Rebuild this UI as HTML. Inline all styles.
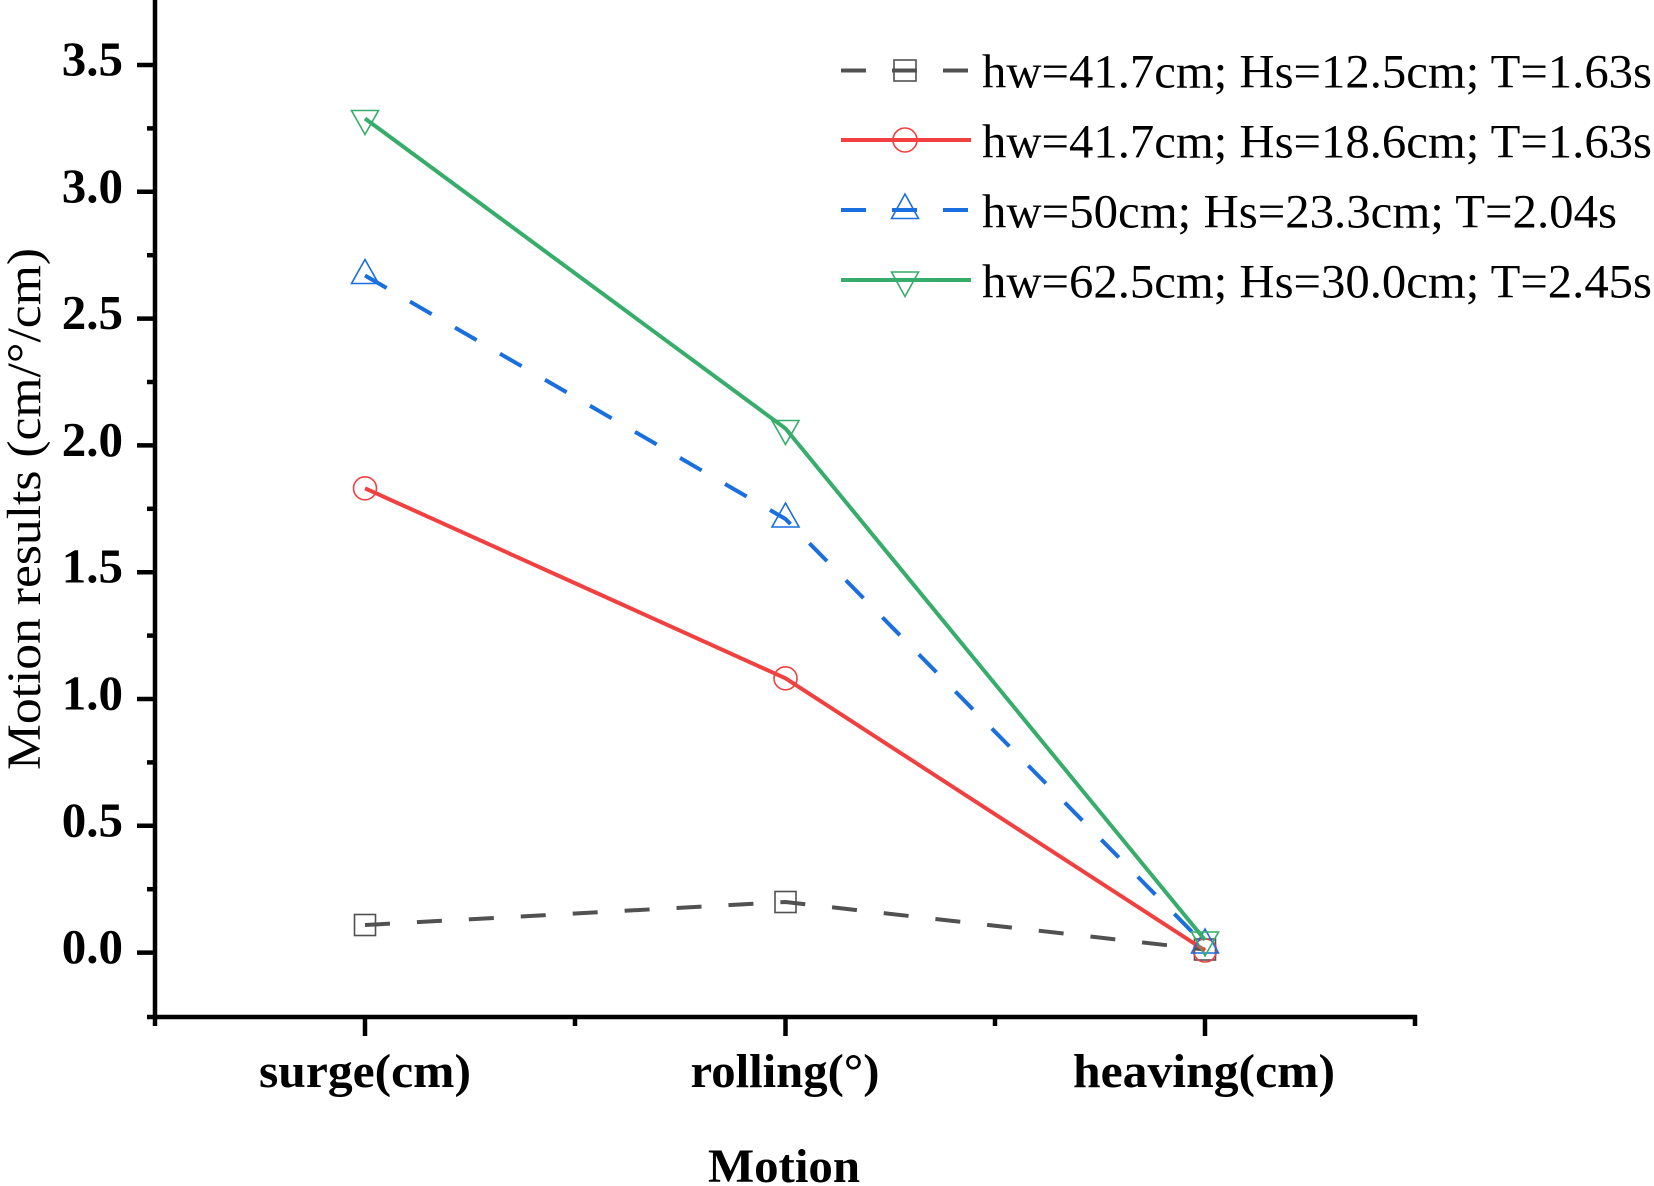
<!DOCTYPE html>
<html>
<head>
<meta charset="utf-8">
<style>
  html, body { margin: 0; padding: 0; background: #ffffff; }
  body { width: 1654px; height: 1186px; overflow: hidden; }
  svg { display: block; }
  .tick { font-family: "Liberation Serif", serif; font-weight: bold; font-size: 49px; fill: #000; }
  .cat { font-family: "Liberation Serif", serif; font-weight: bold; font-size: 48px; fill: #000; }
  .leg { font-family: "Liberation Serif", serif; font-size: 48px; fill: #000; }
  .ttl { font-family: "Liberation Serif", serif; font-size: 48px; fill: #000; }
</style>
</head>
<body>
<svg width="1654" height="1186" viewBox="0 0 1654 1186" xmlns="http://www.w3.org/2000/svg">
  <rect x="0" y="0" width="1654" height="1186" fill="#ffffff"/>

  <!-- Axes -->
  <g stroke="#000" stroke-width="4.5" fill="none" stroke-linecap="butt">
    <line x1="155" y1="0" x2="155" y2="1019"/>
    <line x1="153" y1="1017" x2="1417" y2="1017"/>
    <!-- y major ticks -->
    <line x1="137" y1="952.6" x2="155" y2="952.6"/>
    <line x1="137" y1="825.8" x2="155" y2="825.8"/>
    <line x1="137" y1="699" x2="155" y2="699"/>
    <line x1="137" y1="572.2" x2="155" y2="572.2"/>
    <line x1="137" y1="445.4" x2="155" y2="445.4"/>
    <line x1="137" y1="318.6" x2="155" y2="318.6"/>
    <line x1="137" y1="191.8" x2="155" y2="191.8"/>
    <line x1="137" y1="65" x2="155" y2="65"/>
    <!-- y minor ticks -->
    <line x1="147" y1="1017" x2="155" y2="1017"/>
    <line x1="147" y1="889.2" x2="155" y2="889.2"/>
    <line x1="147" y1="762.4" x2="155" y2="762.4"/>
    <line x1="147" y1="635.6" x2="155" y2="635.6"/>
    <line x1="147" y1="508.8" x2="155" y2="508.8"/>
    <line x1="147" y1="382" x2="155" y2="382"/>
    <line x1="147" y1="255.2" x2="155" y2="255.2"/>
    <line x1="147" y1="128.4" x2="155" y2="128.4"/>
    <!-- x major ticks -->
    <line x1="365" y1="1017" x2="365" y2="1036"/>
    <line x1="785.5" y1="1017" x2="785.5" y2="1036"/>
    <line x1="1205" y1="1017" x2="1205" y2="1036"/>
    <!-- x minor ticks -->
    <line x1="155" y1="1017" x2="155" y2="1026"/>
    <line x1="575" y1="1017" x2="575" y2="1026"/>
    <line x1="995" y1="1017" x2="995" y2="1026"/>
    <line x1="1415" y1="1015" x2="1415" y2="1026"/>
  </g>

  <!-- Y tick labels -->
  <g class="tick" text-anchor="end">
    <text x="123" y="963">0.0</text>
    <text x="123" y="836.3">0.5</text>
    <text x="123" y="709.5">1.0</text>
    <text x="123" y="582.7">1.5</text>
    <text x="123" y="455.9">2.0</text>
    <text x="123" y="329.1">2.5</text>
    <text x="123" y="202.3">3.0</text>
    <text x="123" y="75.5">3.5</text>
  </g>

  <!-- X category labels -->
  <g class="cat" text-anchor="middle">
    <text x="365" y="1087" textLength="212" lengthAdjust="spacingAndGlyphs">surge(cm)</text>
    <text x="785" y="1087" textLength="189" lengthAdjust="spacingAndGlyphs">rolling(°)</text>
    <text x="1204" y="1087" textLength="262" lengthAdjust="spacingAndGlyphs">heaving(cm)</text>
    <text x="784" y="1182" textLength="152" lengthAdjust="spacingAndGlyphs">Motion</text>
  </g>

  <!-- Y title -->
  <text class="ttl" text-anchor="middle" transform="translate(40,509) rotate(-90)" textLength="522" lengthAdjust="spacingAndGlyphs">Motion results (cm/°/cm)</text>

  <!-- Series: gray dashed squares -->
  <polyline points="365,925 785.5,902 1205,949.5" fill="none" stroke="#515151" stroke-width="4" stroke-dasharray="25 27" stroke-linejoin="round"/>
  <g fill="none" stroke="#515151" stroke-width="1.6">
    <rect x="354.5" y="914.5" width="21" height="21"/>
    <rect x="775" y="891.5" width="21" height="21"/>
    <rect x="1194.5" y="939" width="21" height="21"/>
  </g>

  <!-- Series: red solid circles -->
  <polyline points="365,488.3 785.5,678.3 1205,950.5" fill="none" stroke="#F14040" stroke-width="4" stroke-linejoin="round"/>
  <g fill="none" stroke="#F14040" stroke-width="1.6">
    <circle cx="365" cy="488.3" r="11.5"/>
    <circle cx="785.5" cy="678.3" r="11.5"/>
    <circle cx="1205" cy="950.5" r="11.5"/>
  </g>

  <!-- Series: blue dashed up-triangles -->
  <polyline points="365,275.5 785.5,519 1205,945" fill="none" stroke="#1A6FDF" stroke-width="4" stroke-dasharray="25 27" stroke-linejoin="round"/>
  <g fill="none" stroke="#1A6FDF" stroke-width="1.6">
    <polygon points="365,259.5 378.5,283.5 351.5,283.5"/>
    <polygon points="785.5,503 799,527 772,527"/>
    <polygon points="1205,929 1218.5,953 1191.5,953"/>
  </g>

  <!-- Series: green solid down-triangles -->
  <polyline points="365,118.5 785.5,428.5 1205,940" fill="none" stroke="#37AD6B" stroke-width="4" stroke-linejoin="round"/>
  <g fill="none" stroke="#37AD6B" stroke-width="1.6">
    <polygon points="351.5,110.5 378.5,110.5 365,134.5"/>
    <polygon points="772,420.5 799,420.5 785.5,444.5"/>
    <polygon points="1191.5,932 1218.5,932 1205,956"/>
  </g>

  <!-- Legend -->
  <g>
    <line x1="841" y1="70.5" x2="971" y2="70.5" stroke="#515151" stroke-width="4" stroke-dasharray="25 26"/>
    <rect x="894" y="60" width="22" height="21" fill="none" stroke="#515151" stroke-width="1.6"/>
    <text class="leg" x="982" y="87.5" textLength="670" lengthAdjust="spacingAndGlyphs">hw=41.7cm; Hs=12.5cm; T=1.63s</text>

    <line x1="841" y1="140" x2="971" y2="140" stroke="#F14040" stroke-width="4"/>
    <circle cx="905" cy="140" r="12" fill="none" stroke="#F14040" stroke-width="1.6"/>
    <text class="leg" x="982" y="157.5" textLength="670" lengthAdjust="spacingAndGlyphs">hw=41.7cm; Hs=18.6cm; T=1.63s</text>

    <line x1="841" y1="210" x2="971" y2="210" stroke="#1A6FDF" stroke-width="4" stroke-dasharray="25 26"/>
    <polygon points="905,194 918.5,218.5 891.5,218.5" fill="none" stroke="#1A6FDF" stroke-width="1.6"/>
    <text class="leg" x="982" y="227.5" textLength="635" lengthAdjust="spacingAndGlyphs">hw=50cm; Hs=23.3cm; T=2.04s</text>

    <line x1="841" y1="280" x2="971" y2="280" stroke="#37AD6B" stroke-width="4"/>
    <polygon points="891.5,272 918.5,272 905,296.5" fill="none" stroke="#37AD6B" stroke-width="1.6"/>
    <text class="leg" x="982" y="297.5" textLength="670" lengthAdjust="spacingAndGlyphs">hw=62.5cm; Hs=30.0cm; T=2.45s</text>
  </g>
</svg>
</body>
</html>
